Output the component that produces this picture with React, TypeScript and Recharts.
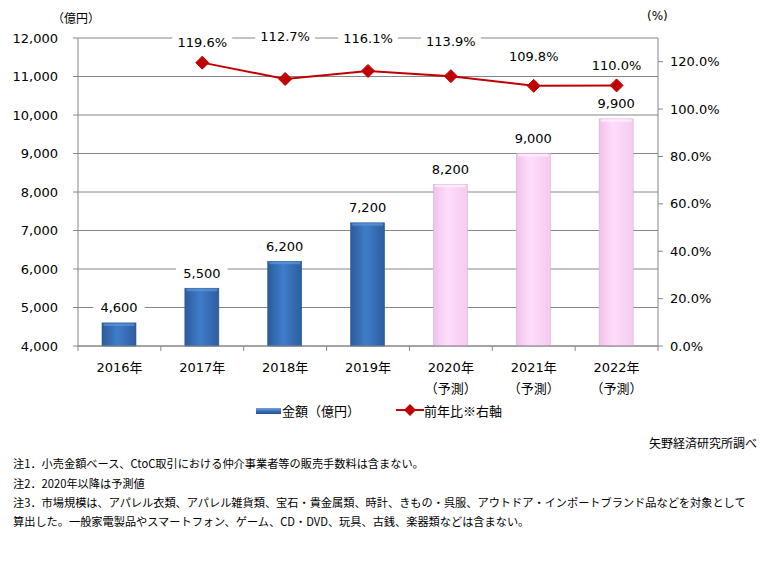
import { ComposedChart, Bar, Line, XAxis, YAxis, CartesianGrid, LabelList, Cell } from 'recharts';

// 市場規模推移（億円）と前年比
const years = ['2016年', '2017年', '2018年', '2019年', '2020年', '2021年', '2022年'];
const forecast = [false, false, false, false, true, true, true];
const amounts = [4600, 5500, 6200, 7200, 8200, 9000, 9900];
const yoy: (number | null)[] = [null, 119.6, 112.7, 116.1, 113.9, 109.8, 110.0];
const leftTicks = [4000, 5000, 6000, 7000, 8000, 9000, 10000, 11000, 12000];
const rightTicks = [0, 20, 40, 60, 80, 100, 120];

const notes = [
  '注1．小売金額ベース、CtoC取引における仲介事業者等の販売手数料は含まない。',
  '注2．2020年以降は予測値',
  '注3．市場規模は、アパレル衣類、アパレル雑貨類、宝石・貴金属類、時計、きもの・呉服、アウトドア・インポートブランド品などを対象として',
  '算出した。一般家電製品やスマートフォン、ゲーム、CD・DVD、玩具、古銭、楽器類などは含まない。',
];

const data = years.map((year, i) => ({
  year,
  amount: amounts[i],
  yoy: yoy[i],
  forecast: forecast[i],
}));

const FONT = '"DejaVu Sans", "Noto Sans CJK JP", sans-serif';
const JP = '"Noto Sans CJK JP", sans-serif';
const AXIS = '#868686';
const RED = '#c00000';
const PLOT_LEFT = 78;
const PLOT_RIGHT = 658;
const BAND = (PLOT_RIGHT - PLOT_LEFT) / years.length;
// hand-placed label offsets as in the original
const LINE_LABEL_DY = [0, -20, -42, -32, -35, -29, -20];

function BarShape(props: any) {
  const { x, y, width, height, payload } = props;
  if (height <= 0) return null;
  const id = payload.forecast ? 'gPink' : 'gBlue';
  const top = payload.forecast ? '#fff4fe' : '#5e97da';
  return (
    <g>
      <rect x={x} y={y} width={width} height={height} fill={`url(#${id})`} stroke={payload.forecast ? '#dcaed6' : '#2a5a98'} strokeWidth={0.6} />
      <rect x={x + 1.5} y={y + 0.5} width={width - 3} height={2.5} rx={1.2} fill={top} opacity={0.7} />
    </g>
  );
}

function labelBox(cx: number, cy: number, text: string) {
  const w = text.length * 8.3 + 10;
  return (
    <g>
      <rect x={cx - w / 2} y={cy - 9} width={w} height={18} fill="#fff" />
      <text x={cx} y={cy} textAnchor="middle" dominantBaseline="central" fontFamily={FONT} fontSize={13} fill="#000">
        {text}
      </text>
    </g>
  );
}

function BarLabel(props: any) {
  const { x, y, width, value } = props;
  return labelBox(x + width / 2, y - 15, Number(value).toLocaleString('en-US'));
}

function LineLabel(props: any) {
  const { x, y, value, index } = props;
  if (value == null) return null;
  return labelBox(x, y + LINE_LABEL_DY[index], `${Number(value).toFixed(1)}%`);
}

function Diamond(props: any) {
  const { cx, cy, payload } = props;
  if (payload.yoy == null || cx == null) return null;
  const r = 6.5;
  return <polygon points={`${cx},${cy - r} ${cx + r},${cy} ${cx},${cy + r} ${cx - r},${cy}`} fill={RED} stroke={RED} />;
}

function YearTick(props: any) {
  const { x, y, payload, index } = props;
  const d = data[index];
  return (
    <g>
      <line x1={x - BAND / 2} y1={y} x2={x - BAND / 2} y2={y + 5} stroke={AXIS} />
      {index === years.length - 1 && <line x1={x + BAND / 2} y1={y} x2={x + BAND / 2} y2={y + 5} stroke={AXIS} />}
      <text x={x} y={y + 21} textAnchor="middle" dominantBaseline="central" fontFamily={FONT} fontSize={13} fill="#000">
        {payload.value}
      </text>
      {d && d.forecast && (
        <text x={x} y={y + 41} textAnchor="middle" dominantBaseline="central" fontFamily={JP} fontSize={13} fill="#000">
          （予測）
        </text>
      )}
    </g>
  );
}

export default function App() {
  return (
    <div style={{ position: 'absolute', left: 0, top: 0, width: 766, height: 561, background: '#fff', fontFamily: JP }}>
      <div style={{ position: 'absolute', left: 52, top: 9, fontSize: 12 }}>（億円）</div>
      <div style={{ position: 'absolute', left: 647, top: 9, fontSize: 12, fontFamily: FONT }}>(%)</div>

      <ComposedChart width={766} height={400} data={data} margin={{ top: 38, right: 0, bottom: 0, left: 0 }}>
        <defs>
          <linearGradient id="gBlue" x1="0" y1="0" x2="1" y2="0">
            <stop offset="0%" stopColor="#2c5b9a" />
            <stop offset="45%" stopColor="#3f7dca" />
            <stop offset="100%" stopColor="#2d5d9f" />
          </linearGradient>
          <linearGradient id="gPink" x1="0" y1="0" x2="1" y2="0">
            <stop offset="0%" stopColor="#efc3ea" />
            <stop offset="40%" stopColor="#ffdcfc" />
            <stop offset="100%" stopColor="#f4cbef" />
          </linearGradient>
        </defs>
        <CartesianGrid yAxisId="left" vertical={false} stroke={AXIS} />
        <XAxis
          dataKey="year"
          height={54}
          stroke={AXIS}
          tickLine={false}
          tickSize={0}
          tickMargin={0}
          interval={0}
          tick={<YearTick />}
        />
        <YAxis
          yAxisId="left"
          width={78}
          domain={[4000, 12000]}
          ticks={leftTicks}
          stroke={AXIS}
          tickSize={5}
          tickMargin={15}
          tickFormatter={(v: number) => v.toLocaleString('en-US')}
          tick={{ fill: '#000', fontSize: 13, fontFamily: FONT }}
        />
        <YAxis
          yAxisId="right"
          orientation="right"
          width={766 - PLOT_RIGHT}
          domain={[0, 130]}
          ticks={rightTicks}
          stroke={AXIS}
          tickSize={5}
          tickMargin={7}
          tickFormatter={(v: number) => `${v.toFixed(1)}%`}
          tick={{ fill: '#000', fontSize: 13, fontFamily: FONT, textAnchor: 'start' }}
        />
        <Bar yAxisId="left" dataKey="amount" barSize={34} shape={<BarShape />} isAnimationActive={false}>
          {data.map((d) => (
            <Cell key={d.year} fill={d.forecast ? '#ffd9fa' : '#3d74b9'} />
          ))}
          <LabelList dataKey="amount" content={<BarLabel />} />
        </Bar>
        <Line
          yAxisId="right"
          dataKey="yoy"
          stroke={RED}
          strokeWidth={2}
          dot={<Diamond />}
          activeDot={false}
          connectNulls
          isAnimationActive={false}
        >
          <LabelList dataKey="yoy" content={<LineLabel />} />
        </Line>
      </ComposedChart>

      {/* legend */}
      <div style={{ position: 'absolute', left: 256, top: 401, display: 'flex', alignItems: 'center', fontSize: 13 }}>
        <div style={{ width: 25, height: 6, background: 'linear-gradient(#6fa3e0, #3468ad 60%, #24518c)', marginRight: 1 }} />
        <span>金額（億円）</span>
      </div>
      <svg style={{ position: 'absolute', left: 396, top: 403 }} width={28} height={14}>
        <line x1={0} y1={7} x2={28} y2={7} stroke={RED} strokeWidth={2} />
        <polygon points="14,1 20,7 14,13 8,7" fill={RED} />
      </svg>
      <div style={{ position: 'absolute', left: 424, top: 401, fontSize: 13 }}>前年比※右軸</div>

      <div style={{ position: 'absolute', right: 9, top: 434, fontSize: 12 }}>矢野経済研究所調べ</div>
      {notes.map((n, i) => (
        <div key={i} style={{ position: 'absolute', left: 13, top: 455 + [0, 20, 39, 58][i], fontSize: 11.2, whiteSpace: 'nowrap' }}>
          {n}
        </div>
      ))}
    </div>
  );
}
